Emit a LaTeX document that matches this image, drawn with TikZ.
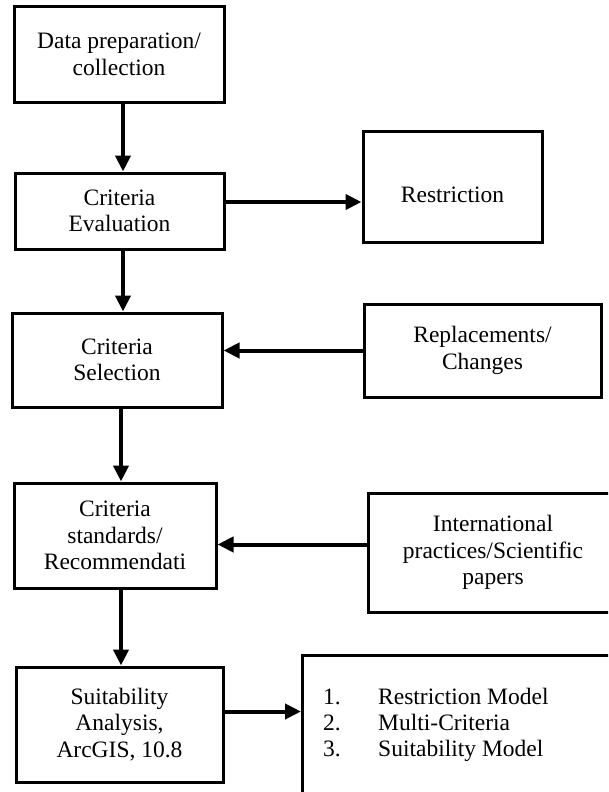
\documentclass[tikz,border=0pt]{standalone}
\usepackage{fontspec}
\setmainfont{Liberation Serif}
\usetikzlibrary{arrows.meta}

\begin{document}
\begin{tikzpicture}[y=-1pt, x=1pt, box/.style={draw=black, fill=white, line width=3pt, inner sep=0pt, align=center, font=\fontsize{23.5}{26.5}\selectfont}, flow/.style={line width=4pt, -{Triangle[length=16pt,width=15pt]}}, listtext/.style={anchor=base west, inner sep=0pt, font=\fontsize{23.5}{26.5}\selectfont}]
  \useasboundingbox (0, 0) rectangle (608, 792);



  \clip (0, 0) rectangle (608, 792);



  \node[box, minimum width=210pt, minimum height=95pt] (prep) at (119, 54.5){Data preparation/\\collection};



  \node[box, minimum width=209pt, minimum height=76pt] (eval) at (119.5, 211){Criteria\\Evaluation};



  \node[box, minimum width=179pt, minimum height=111pt, text height=31pt, text depth=0pt] (restr) at (452.5, 186.5){Restriction};



  \node[box, minimum width=210pt, minimum height=94pt] (sel) at (117, 360){Criteria\\Selection};



  \node[box, minimum width=237pt, minimum height=93pt] (repl) at (482.5, 350.5){Replacements/\\Changes};



  \node[box, minimum width=202pt, minimum height=105pt] (std) at (115, 535.5){Criteria\\standards/\\Recommendati};



  \node[box, minimum width=250pt, minimum height=119pt] (intl) at (493, 552.5){International\\practices/Scientific\\papers};



  \node[box, minimum width=207pt, minimum height=115pt] (suit) at (119.5, 724.5){Suitability\\Analysis,\\ArcGIS, 10.8};



  \node[box, anchor=north west, minimum width=400pt, minimum height=200pt] (models) at (301, 654){};



  \foreach \num/\item [count=\i] in {1./Restriction Model, 2./Multi-Criteria, 3./Suitability Model}{
    \node[listtext] (num\i) at (323, 678 + 26*\i){\num};
    \node[listtext] (item\i) at (378, 678 + 26*\i){\item};
  }



  \draw[flow] ([xshift=4pt]prep.south) -- ([xshift=4pt]prep.south |- eval.north);



  \draw[flow] ([yshift=9pt]eval.east) -- ([yshift=9pt]eval.east -| restr.west);



  \draw[flow] ([xshift=3.5pt]eval.south) -- ([xshift=3.5pt]eval.south |- sel.north);



  \draw[flow] (repl.west) -- (repl.west -| sel.east);



  \draw[flow] ([xshift=4pt]sel.south) -- ([xshift=4pt]sel.south |- std.north);



  \draw[flow] ([yshift=8pt]intl.west) -- ([yshift=8pt]intl.west -| std.east);



  \draw[flow] ([xshift=6pt]std.south) -- ([xshift=6pt]std.south |- suit.north);



  \draw[flow] ([yshift=13pt]suit.east) -- ([yshift=13pt]suit.east -| models.west);




\end{tikzpicture}
\end{document}
